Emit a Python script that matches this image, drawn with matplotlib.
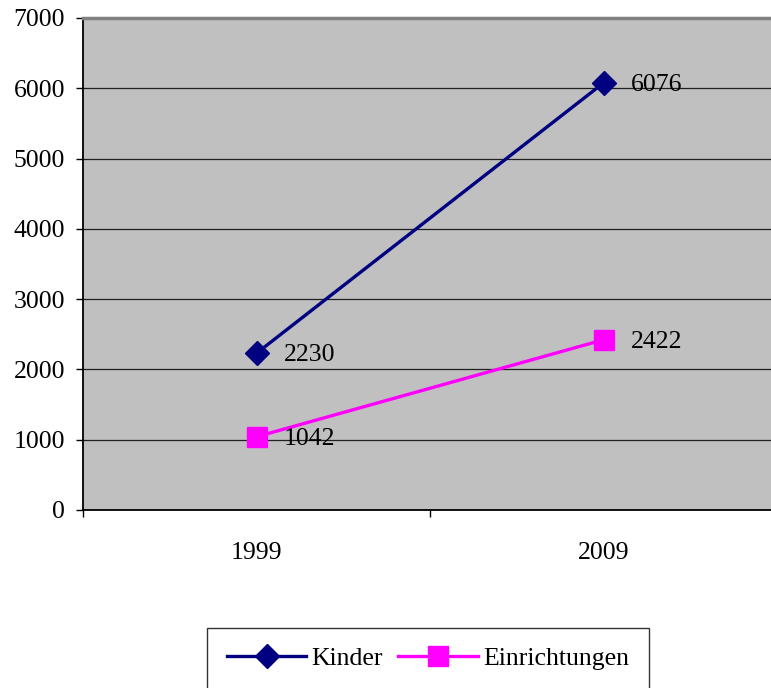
import matplotlib

matplotlib.use("Agg")

import matplotlib.pyplot as plt  # noqa: E402

# data
years = ["1999", "2009"]
kinder = [2230, 6076]
einrichtungen = [1042, 2422]
y_ticks = [0, 1000, 2000, 3000, 4000, 5000, 6000, 7000]

plt.rcParams["font.family"] = ["Liberation Serif", "DejaVu Serif"]

W, H = 771, 688
fig = plt.figure(figsize=(W / 100, H / 100), dpi=100)
fig.patch.set_facecolor("white")

# plot area runs off the right edge, like the original
left, top, bottom, right = 83, 18, 510, 777
ax = fig.add_axes([left / W, 1 - bottom / H, (right - left) / W, (bottom - top) / H])
ax.set_facecolor("#C0C0C0")

x = range(len(years))
ax.plot(x, kinder, color="#000080", lw=2.4, marker="D", ms=12,
        markeredgecolor="#000080", label="Kinder", zorder=3)
ax.plot(x, einrichtungen, color="#FF00FF", lw=2.4, marker="s", ms=14,
        markeredgecolor="#FF00FF", label="Einrichtungen", zorder=3)

for xs, ys in [(x, kinder), (x, einrichtungen)]:
    for xi, yi in zip(xs, ys):
        ax.annotate(str(yi), (xi, yi), xytext=(19.5, -1.5), textcoords="offset points",
                    ha="left", va="center", fontsize=18.5, zorder=4)

ax.set_xlim(-0.5, len(years) - 0.5)
ax.set_ylim(0, 7000)
ax.set_yticks(y_ticks)
ax.yaxis.grid(True, color="#202020", lw=0.9)
ax.set_axisbelow(True)

ax.set_xticks(list(x))
ax.set_xticklabels(years)
ax.set_xticks([-0.5, 0.5, 1.5], minor=True)
ax.tick_params(axis="x", which="major", length=0, pad=23, labelsize=18.5)
ax.tick_params(axis="x", which="minor", length=5, width=1, direction="out")
ax.tick_params(axis="y", length=5, width=1, pad=8, labelsize=18.5)

for side in ("left", "bottom"):
    ax.spines[side].set_color("black")
    ax.spines[side].set_linewidth(1.3)
ax.spines["top"].set_color("#808080")
ax.spines["top"].set_linewidth(2.5)
ax.spines["right"].set_visible(False)

leg = fig.legend(loc="upper center", bbox_to_anchor=(428 / W, 1 - 628 / H),
                 ncol=2, fontsize=18.5, frameon=True, fancybox=False,
                 handlelength=3.1, handletextpad=0.2, columnspacing=0.6,
                 borderpad=0.75, borderaxespad=0)
leg.get_frame().set_edgecolor("black")
leg.get_frame().set_linewidth(1.0)

fig.savefig("out.png", dpi=100)
